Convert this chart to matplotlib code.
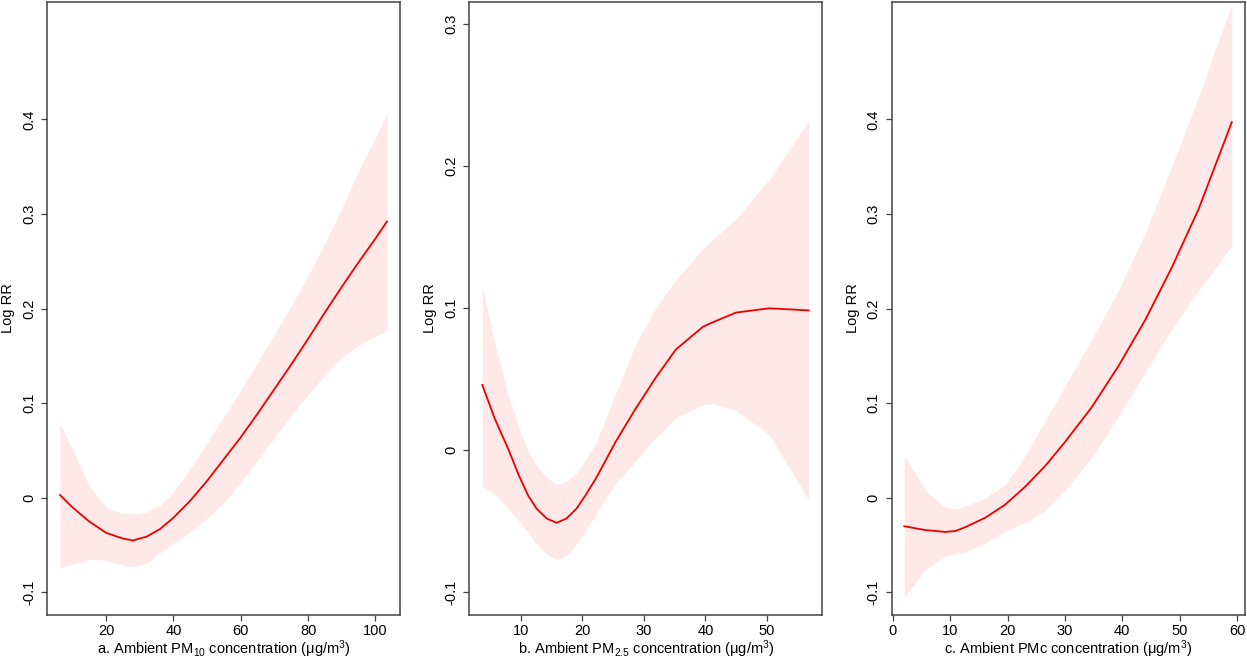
import matplotlib
matplotlib.use("Agg")
import matplotlib.pyplot as plt

plt.rcParams['font.family'] = ['Liberation Sans', 'DejaVu Sans']
plt.rcParams['mathtext.default'] = 'regular'

# Panel a: PM10
pm10_x = [6.3, 10, 15, 20, 25, 28, 32, 36, 40, 45, 50, 55, 60, 65, 70, 75, 80, 85, 90, 95, 100, 103.4]
pm10_fit = [0.003, -0.010, -0.025, -0.037, -0.043, -0.045, -0.041, -0.033, -0.021, -0.003, 0.018,
            0.041, 0.064, 0.089, 0.115, 0.141, 0.168, 0.196, 0.223, 0.249, 0.274, 0.292]
pm10_hi = [0.078, 0.052, 0.012, -0.010, -0.017, -0.017, -0.015, -0.008, 0.006, 0.031, 0.058,
           0.086, 0.114, 0.143, 0.173, 0.203, 0.235, 0.269, 0.306, 0.346, 0.380, 0.407]
pm10_lo = [-0.074, -0.070, -0.065, -0.066, -0.071, -0.073, -0.069, -0.058, -0.048, -0.036, -0.022,
           -0.005, 0.016, 0.040, 0.064, 0.087, 0.109, 0.130, 0.148, 0.161, 0.171, 0.177]

# Panel b: PM2.5
pm25_x = [3.72, 5.78, 7.94, 9.7, 11.2, 12.55, 14.2, 15.79, 17.4, 19.04, 20.6, 22.3, 25.4,
          28.6, 31.9, 35.2, 39.6, 41.1, 45.0, 50.4, 56.8]
pm25_fit = [0.046, 0.022, 0.001, -0.018, -0.032, -0.041, -0.048, -0.051, -0.048, -0.041, -0.031,
            -0.019, 0.006, 0.029, 0.051, 0.071, 0.087, 0.090, 0.097, 0.100, 0.0985]
pm25_hi = [0.116, 0.074, 0.039, 0.016, -0.001, -0.011, -0.019, -0.024, -0.022, -0.016, -0.006,
           0.006, 0.040, 0.074, 0.100, 0.120, 0.142, 0.148, 0.163, 0.191, 0.232]
pm25_lo = [-0.025, -0.031, -0.041, -0.050, -0.058, -0.066, -0.073, -0.077, -0.074, -0.066, -0.056,
           -0.044, -0.023, -0.008, 0.009, 0.023, 0.032, 0.033, 0.028, 0.011, -0.035]

# Panel c: PMc
pmc_x = [1.97, 5.63, 9.12, 10.9, 12.6, 16.1, 19.6, 23.1, 26.6, 30.0, 34.7, 39.3, 44.0, 48.6, 53.3, 59.1]
pmc_fit = [-0.030, -0.034, -0.036, -0.035, -0.031, -0.021, -0.007, 0.012, 0.034, 0.059, 0.096,
           0.139, 0.188, 0.243, 0.305, 0.397]
pmc_hi = [0.045, 0.008, -0.010, -0.012, -0.009, 0.000, 0.014, 0.045, 0.082, 0.118, 0.168,
          0.219, 0.280, 0.350, 0.424, 0.522]
pmc_lo = [-0.105, -0.076, -0.061, -0.059, -0.057, -0.048, -0.035, -0.026, -0.013, 0.008, 0.043,
          0.086, 0.133, 0.178, 0.219, 0.266]

xlabels = ['a. Ambient PM$_{10}$ concentration (\u03bcg/m$^{3}$)',
           'b. Ambient PM$_{2.5}$ concentration (\u03bcg/m$^{3}$)',
           'c. Ambient PMc concentration (\u03bcg/m$^{3}$)']
xticks = [[20, 40, 60, 80, 100], [10, 20, 30, 40, 50], [0, 10, 20, 30, 40, 50, 60]]
yticks = [[-0.1, 0, 0.1, 0.2, 0.3, 0.4], [-0.1, 0, 0.1, 0.2, 0.3], [-0.1, 0, 0.1, 0.2, 0.3, 0.4]]
ytick_labels = [['-0.1', '0', '0.1', '0.2', '0.3', '0.4'],
                ['-0.1', '0', '0.1', '0.2', '0.3'],
                ['-0.1', '0', '0.1', '0.2', '0.3', '0.4']]

panels = [(pm10_x, pm10_fit, pm10_lo, pm10_hi),
          (pm25_x, pm25_fit, pm25_lo, pm25_hi),
          (pmc_x, pmc_fit, pmc_lo, pmc_hi)]
xlims = [(2.45, 107.3), (1.6, 59.0), (-0.17, 61.4)]
ylims = [(-0.1235, 0.524), (-0.1157, 0.3156), (-0.1235, 0.524)]
lefts = [0.0377, 0.3763, 0.7153]

fig = plt.figure(figsize=(12.47, 6.61), dpi=100)
edge = '#444444'
fs = 10.5

for i, (x, fit, lo, hi) in enumerate(panels):
    ax = fig.add_axes([lefts[i], 0.0700, 0.2831, 0.927])
    ax.fill_between(x, lo, hi, color='#ffe8e8', linewidth=0)
    ax.plot(x, fit, color='#ee0000', linewidth=1.3)
    ax.set_xlim(*xlims[i])
    ax.set_ylim(*ylims[i])
    ax.set_xticks(xticks[i])
    ax.set_yticks(yticks[i])
    ax.set_yticklabels(ytick_labels[i], rotation=90, va='center')
    ax.tick_params(length=4.5, width=0.9, color=edge, labelsize=fs, pad=2.5)
    ax.tick_params(axis='y', pad=3.5)
    for s in ax.spines.values():
        s.set_color(edge)
        s.set_linewidth(1.1)
    ax.set_xlabel(xlabels[i], fontsize=fs, labelpad=0)
    ax.set_ylabel('Log RR', fontsize=fs)
    ax.yaxis.set_label_coords(-0.09, 0.5)

fig.savefig('out.png', dpi=100)
